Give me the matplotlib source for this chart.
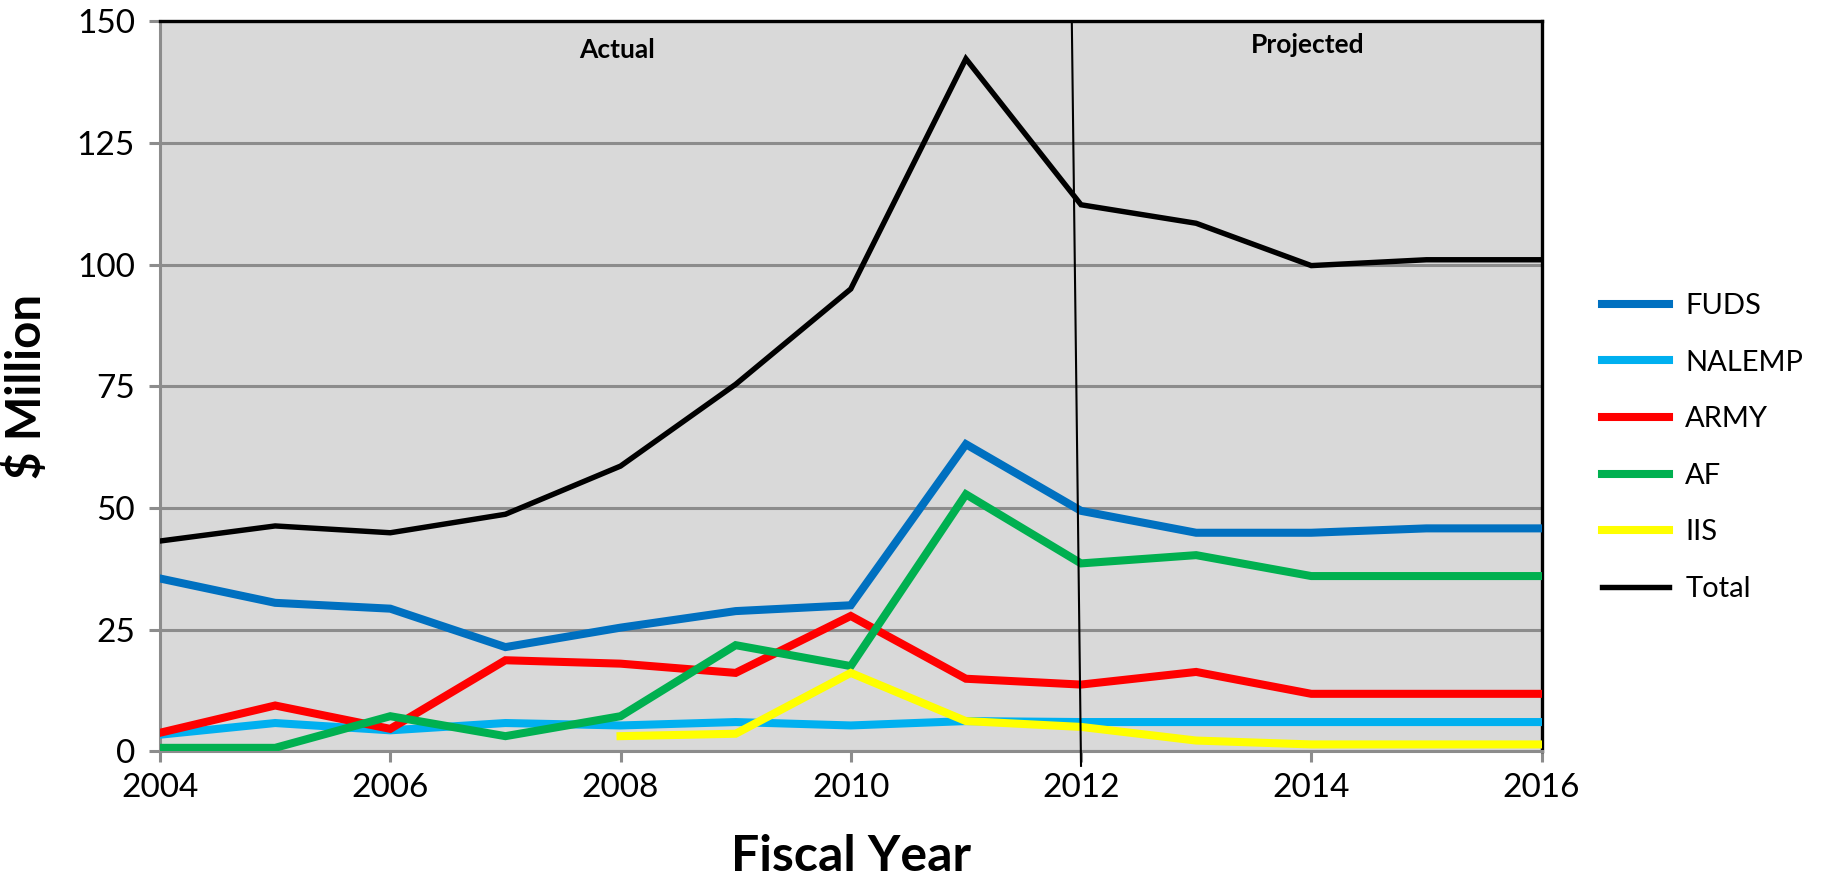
import matplotlib
matplotlib.use("Agg")
import matplotlib.pyplot as plt
from matplotlib.lines import Line2D

plt.rcParams['font.family'] = ['Lato', 'DejaVu Sans']

years = list(range(2004, 2017))
fuds = [35.5, 30.5, 29.3, 21.4, 25.4, 28.8, 30.0, 63.1, 49.4, 44.9, 44.9, 45.8, 45.8]
nalemp = [3.4, 5.8, 4.3, 5.8, 5.3, 6.0, 5.3, 6.2, 6.0, 6.0, 6.0, 6.0, 6.0]
army = [3.8, 9.4, 4.6, 18.7, 18.0, 16.1, 27.8, 14.9, 13.7, 16.3, 11.8, 11.8, 11.8]
af = [0.7, 0.7, 7.2, 3.1, 7.2, 21.8, 17.5, 52.8, 38.6, 40.3, 36.0, 36.0, 36.0]
iis_years = list(range(2008, 2017))
iis = [3.1, 3.6, 16.1, 6.2, 5.0, 2.2, 1.4, 1.4, 1.4]
total = [43.2, 46.3, 44.9, 48.7, 58.6, 75.4, 95.0, 142.3, 112.3, 108.5, 99.8, 101.0, 101.0]

series_names = ['FUDS', 'NALEMP', 'ARMY', 'AF', 'IIS', 'Total']
colors = ['#0070C0', '#00B0F0', '#FF0000', '#00B050', '#FFFF00', '#000000']

fig = plt.figure(figsize=(18.31, 8.88), dpi=100)
ax = fig.add_axes([0.0874, 0.154, 0.7545, 0.822])
ax.set_facecolor('#D9D9D9')

ax.set_xlim(2004, 2016)
ax.set_ylim(0, 150)
ax.set_yticks(range(0, 151, 25))
ax.set_xticks(range(2004, 2017, 2))
ax.grid(axis='y', color='#8C8C8C', linewidth=2.2)
ax.set_axisbelow(True)

LW_SERIES = 5.8
LW_TOTAL = 3.9

data = [(years, fuds), (years, nalemp), (years, army), (years, af), (iis_years, iis), (years, total)]
for (xs, ys), name, c in zip(data, series_names, colors):
    lw = LW_TOTAL if name == 'Total' else LW_SERIES
    ax.plot(xs, ys, color=c, linewidth=lw, label=name, solid_joinstyle='miter', zorder=3)

# divider line between actual and projected
ax.plot([2011.92, 2012.0], [150, -3], color='black', linewidth=1.5, clip_on=False, zorder=4)

for s in ['left', 'bottom']:
    ax.spines[s].set_color('#8C8C8C')
    ax.spines[s].set_linewidth(2.2)
for s in ['top', 'right']:
    ax.spines[s].set_color('black')
    ax.spines[s].set_linewidth(2.4)

ax.tick_params(axis='both', labelsize=24, colors='#8C8C8C', labelcolor='black', width=2.2, length=8)
ax.tick_params(axis='x', pad=8)
ax.tick_params(axis='y', pad=10)

ax.set_xlabel('Fiscal Year', fontsize=36, fontweight='bold', labelpad=22)
ax.set_ylabel('$ Million', fontsize=34, fontweight='bold', labelpad=20)

ax.text(2007.97, 144.2, 'Actual', fontsize=19, fontweight='bold', ha='center', va='center')
ax.text(2013.97, 145.2, 'Projected', fontsize=19, fontweight='bold', ha='center', va='center')

handles = [Line2D([0], [0], color=c, linewidth=(LW_TOTAL if n == 'Total' else LW_SERIES)) for n, c in zip(series_names, colors)]
fig.legend(handles, series_names, loc='center left', bbox_to_anchor=(0.875, 0.496),
           frameon=False, fontsize=21, handlelength=2.3, labelspacing=1.05, handletextpad=0.55,
           borderpad=0, borderaxespad=0)

fig.savefig('out.png', dpi=100)
